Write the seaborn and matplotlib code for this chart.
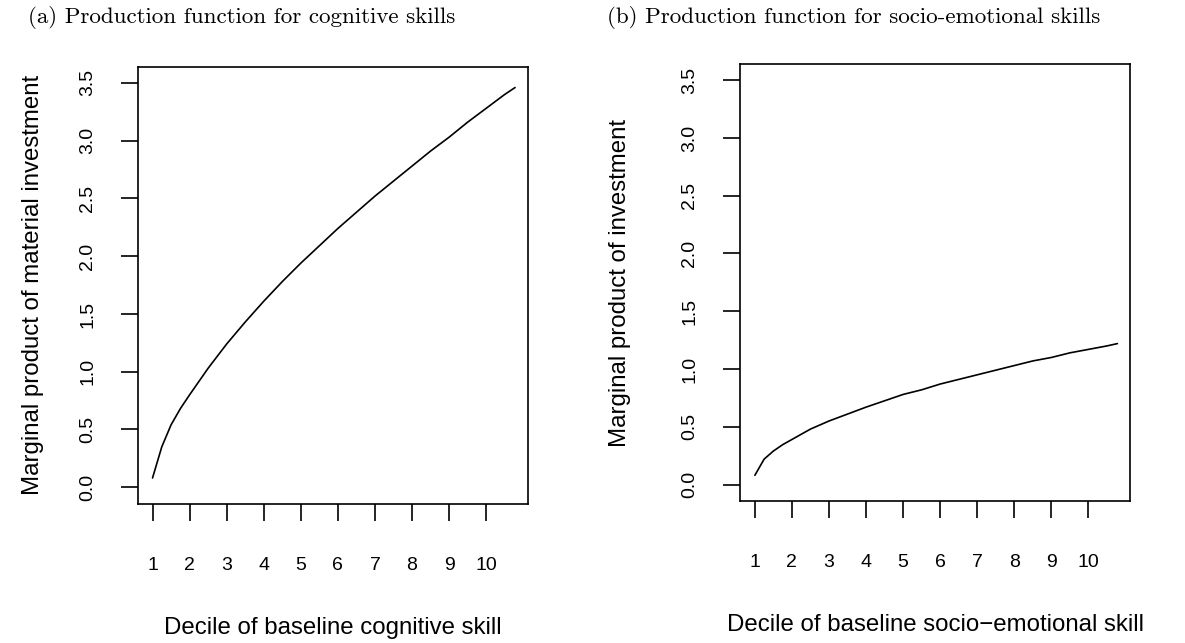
import pandas as pd
import seaborn as sns
import matplotlib.pyplot as plt

# decile points along each curve
decile = [1.0, 1.25, 1.5, 1.75, 2.0, 2.5, 3.0, 3.5, 4.0, 4.5, 5.0, 5.5,
          6.0, 6.5, 7.0, 7.5, 8.0, 8.5, 9.0, 9.5, 10.0, 10.5, 10.78]
mp_cognitive = [0.08, 0.35, 0.54, 0.68, 0.80, 1.03, 1.24, 1.43, 1.61, 1.78, 1.94, 2.09,
                2.24, 2.38, 2.52, 2.65, 2.78, 2.91, 3.03, 3.16, 3.28, 3.40, 3.46]
mp_socioemo = [0.08, 0.22, 0.29, 0.345, 0.39, 0.48, 0.55, 0.61, 0.67, 0.725, 0.78, 0.82,
               0.87, 0.91, 0.95, 0.99, 1.03, 1.07, 1.10, 1.14, 1.17, 1.20, 1.22]

xticks = list(range(1, 11))
yticks = [0.0, 0.5, 1.0, 1.5, 2.0, 2.5, 3.0, 3.5]

captions = ["(a) Production function for cognitive skills",
            "(b) Production function for socio-emotional skills"]
xlabels = ["Decile of baseline cognitive skill",
           "Decile of baseline socio\u2212emotional skill"]
ylabels = ["Marginal product of material investment",
           "Marginal product of investment"]

sns.set_theme(style="ticks")
plt.rcParams["font.family"] = ["Liberation Sans", "DejaVu Sans"]

fig = plt.figure(figsize=(11.85, 6.43), dpi=100)
ax1 = fig.add_axes([0.1162, 0.2162, 0.3294, 0.680])
ax2 = fig.add_axes([0.6245, 0.2204, 0.3294, 0.680])

df1 = pd.DataFrame({"x": decile, "y": mp_cognitive})
df2 = pd.DataFrame({"x": decile, "y": mp_socioemo})

for ax, df, xl, yl, ylx in [(ax1, df1, xlabels[0], ylabels[0], -0.268),
                            (ax2, df2, xlabels[1], ylabels[1], -0.307)]:
    sns.lineplot(data=df, x="x", y="y", ax=ax, color="black", linewidth=1.2)
    ax.set_xlim(0.6, 11.13)
    ax.set_ylim(-0.145, 3.64)
    ax.set_xticks(xticks)
    ax.set_xticklabels([str(t) for t in xticks])
    ax.set_yticks(yticks)
    ax.set_yticklabels([f"{t:.1f}" for t in yticks], rotation=90, va="center")
    for s in ax.spines.values():
        s.set_visible(True)
        s.set_linewidth(1.2)
        s.set_color("black")
    ax.tick_params(axis="both", direction="out", length=12, width=1.2,
                   color="black", labelsize=14, labelcolor="black")
    ax.tick_params(axis="x", pad=26)
    ax.tick_params(axis="y", pad=18)
    ax.set_xlabel(xl, fontsize=17.3, color="black")
    ax.set_ylabel(yl, fontsize=17.3, color="black")
    ax.xaxis.set_label_coords(0.5, -0.284)
    ax.yaxis.set_label_coords(ylx, 0.5)
    ax.xaxis.label.set_va("center")
    ax.yaxis.label.set_va("center")

fig.text(0.2042, 0.973, captions[0], ha="center", va="center",
         family="cmr10", fontsize=16.6, color="black")
fig.text(0.7207, 0.973, captions[1], ha="center", va="center",
         family="cmr10", fontsize=16.6, color="black")

fig.savefig("out.png", dpi=100, facecolor="white")
